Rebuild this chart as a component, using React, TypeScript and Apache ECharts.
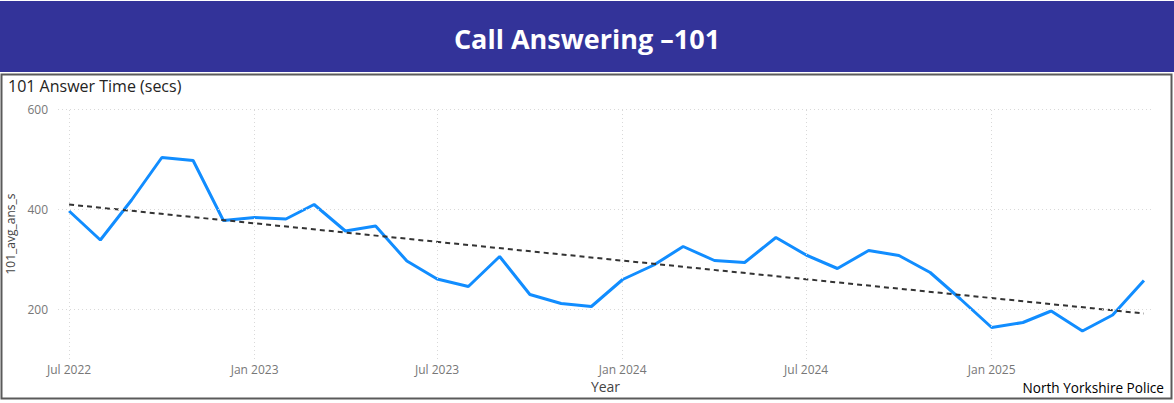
import React, { useEffect, useRef } from "react";
import * as echarts from "echarts";

const months: string[] = [
  "2022-07", "2022-08", "2022-09", "2022-10", "2022-11", "2022-12",
  "2023-01", "2023-02", "2023-03", "2023-04", "2023-05", "2023-06",
  "2023-07", "2023-08", "2023-09", "2023-10", "2023-11", "2023-12",
  "2024-01", "2024-02", "2024-03", "2024-04", "2024-05", "2024-06",
  "2024-07", "2024-08", "2024-09", "2024-10", "2024-11", "2024-12",
  "2025-01", "2025-02", "2025-03", "2025-04", "2025-05", "2025-06",
];

const answerTime: number[] = [
  396, 338, 418, 503, 497, 377,
  383, 380, 409, 356, 366, 296,
  260, 245, 305, 229, 211, 205,
  259, 288, 325, 297, 293, 343,
  308, 281, 317, 307, 273, 220,
  163, 173, 196, 156, 188, 257,
];

const trendMonths: string[] = ["2022-07", "2025-06"];
const trendValues: number[] = [409, 191];

const xTickMonths: string[] = ["2022-07", "2023-01", "2023-07", "2024-01", "2024-07", "2025-01"];
const yTicks: number[] = [200, 400, 600];

const xRangeStart = "2022-06-20";
const xRangeEnd = "2025-06-10";

const monthNames = ["Jan", "Feb", "Mar", "Apr", "May", "Jun", "Jul", "Aug", "Sep", "Oct", "Nov", "Dec"];

// day number since epoch (UTC), so the axis is linear in real time
function toDay(s: string): number {
  const p = s.split("-").map(Number);
  return Math.round(Date.UTC(p[0], p[1] - 1, p[2] || 1) / 86400000);
}

function dayLabel(v: number): string {
  const d = new Date(Math.round(v) * 86400000);
  return `${monthNames[d.getUTCMonth()]} ${d.getUTCFullYear()}`;
}

export default function App() {
  const ref = useRef<HTMLDivElement>(null);

  useEffect(() => {
    document.body.style.margin = "0";
    if (!ref.current) return;
    const chart = echarts.init(ref.current, undefined, { renderer: "svg" });

    const font = "'Open Sans', 'Noto Sans', sans-serif";
    const gridLineStyle = { color: "#d9d9d9", type: [1, 3] as any, width: 1 };

    const option: any = {
      animation: false,
      textStyle: { fontFamily: font },
      grid: {
        left: 58,
        right: 21,
        top: 109,
        bottom: 44,
        containLabel: false,
        outerBoundsMode: "none",
      },
      graphic: [
        {
          type: "rect",
          shape: { x: 0, y: 1, width: 1174, height: 71 },
          style: { fill: "#333399" },
          silent: true,
        },
        {
          type: "text",
          x: 587,
          y: 38,
          style: {
            text: "Call Answering –101",
            fill: "#ffffff",
            font: `bold 27px ${font}`,
            align: "center",
            verticalAlign: "middle",
          },
          silent: true,
        },
        {
          type: "rect",
          shape: { x: 1.5, y: 74.5, width: 1170, height: 324 },
          style: { fill: "none", stroke: "#5a5a5a", lineWidth: 2 },
          silent: true,
          z: -1,
        },
        {
          type: "text",
          x: 8,
          y: 86,
          style: {
            text: "101 Answer Time (secs)",
            fill: "#252423",
            font: `16px ${font}`,
            align: "left",
            verticalAlign: "middle",
          },
          silent: true,
        },
        {
          type: "text",
          x: 1164,
          y: 387,
          style: {
            text: "North Yorkshire Police",
            fill: "#000000",
            font: `13.6px ${font}`,
            align: "right",
            verticalAlign: "middle",
          },
          silent: true,
        },
      ],
      xAxis: {
        type: "value",
        min: toDay(xRangeStart),
        max: toDay(xRangeEnd),
        name: "Year",
        nameLocation: "middle",
        nameGap: 20,
        nameTextStyle: { color: "#444444", fontSize: 14, fontFamily: font },
        axisLine: { show: false },
        axisTick: { show: false },
        splitLine: { show: false },
        axisLabel: {
          customValues: xTickMonths.map(toDay),
          color: "#777777",
          fontSize: 12,
          margin: 4,
          fontFamily: font,
          hideOverlap: false,
          showMinLabel: true,
          showMaxLabel: true,
          formatter: (v: number) => dayLabel(v),
        },
      },
      yAxis: {
        type: "value",
        min: 100,
        max: 600,
        name: "101_avg_ans_s",
        nameLocation: "middle",
        nameRotate: 90,
        nameGap: 38,
        nameTextStyle: { color: "#444444", fontSize: 12, fontFamily: font },
        axisLine: { show: false },
        axisTick: { show: false },
        splitLine: { show: false },
        axisLabel: {
          customValues: yTicks,
          color: "#777777",
          fontSize: 12,
          margin: 10,
          fontFamily: font,
        },
      },
      series: [
        {
          type: "line",
          name: "grid",
          data: [],
          silent: true,
          markLine: {
            silent: true,
            symbol: "none",
            label: { show: false },
            lineStyle: gridLineStyle,
            data: [
              ...yTicks.map((v) => ({ yAxis: v })),
              ...xTickMonths.map((m) => ({ xAxis: toDay(m) })),
            ],
          },
        },
        {
          type: "line",
          name: "101_avg_ans_s",
          data: months.map((m, i) => [toDay(m), answerTime[i]]),
          showSymbol: false,
          symbol: "none",
          lineStyle: { color: "#118DFF", width: 3 },
          itemStyle: { color: "#118DFF" },
          z: 3,
        },
        {
          type: "line",
          name: "trend",
          data: trendMonths.map((m, i) => [toDay(m), trendValues[i]]),
          showSymbol: false,
          symbol: "none",
          lineStyle: { color: "#333333", width: 2, type: [5, 4] },
          itemStyle: { color: "#333333" },
          z: 4,
        },
      ],
    };

    chart.setOption(option);
    return () => chart.dispose();
  }, []);

  return <div ref={ref} style={{ width: 1174, height: 403 }} />;
}
